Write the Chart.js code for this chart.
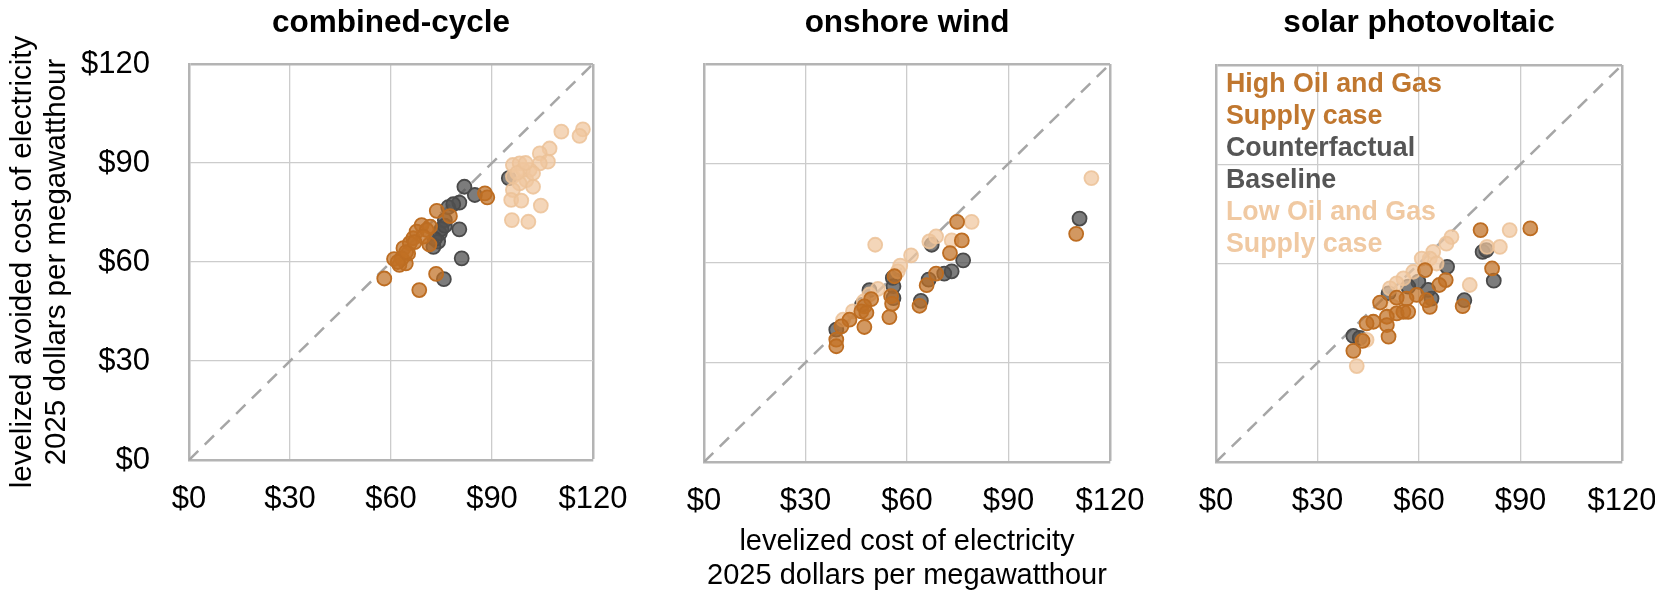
<!DOCTYPE html>
<html>
<head>
<meta charset="utf-8">
<script src="https://cdn.jsdelivr.net/npm/chart.js@4/dist/chart.umd.min.js"></script>
<style>
  body { margin: 0; background: #fff; }
  #wrap { position: relative; width: 1655px; height: 593px; }
  #wrap canvas { position: absolute; left: 0; top: 0; }
</style>
</head>
<body>
<div id="wrap">
  <canvas id="cc" width="1655" height="593"></canvas>
  <canvas id="ow" width="1655" height="593"></canvas>
  <canvas id="pv" width="1655" height="593"></canvas>
</div>
<script>
// values, [LCOE, LACE] in 2025 $/MWh
const ccHigh = [[58,55],[68.4,51.5],[73.4,56.4],[60.9,60.9],[62.5,59.1],[64.4,59.6],[63.7,64.2],[65.6,65.7],
  [66.6,67.2],[69.1,71.2],[71.6,70.7],[71.4,65.3],[73.6,75.5],[77.5,73.9],[87.9,80.8],[88.6,79.6],
  [65.1,62.6],[67.6,69.2],[70.6,69.7],[63.2,61.1],[69.6,67.7],[62,60],[64.5,63],[67,66]];
const ccBase = [[81.8,82.8],[84.9,80.3],[80.3,78],[77,76.6],[80.3,69.9],[81,61.1],[75.7,54.8],[74.5,68.7],
  [74,66.2],[76,72.7],[72.6,64.6],[95,85.4],[78.5,77.5],[75,70],[73,67],[76,71]];
const ccLow = [[110.6,99.5],[117,100.2],[116,98.2],[107.1,94.4],[104.2,92.9],[106.6,90.4],[104.2,89.9],[96.2,89.4],
  [98.2,89.9],[101.2,87.9],[96.2,85.9],[100.2,84.8],[102.2,82.8],[98.2,83.8],[96.2,81.8],[95.7,78.8],
  [98.7,78.6],[104.5,77.1],[95.9,72.7],[100.8,72.2],[99.2,87.9],[102.2,86.9],[97.5,87],[100,90]];

const owHigh = [[110,68.8],[74.8,72.4],[76.2,66.8],[72.7,63],[68.6,56.8],[65.8,53.3],[63.7,47.1],[56.3,56],
  [55.3,50],[55.6,47.7],[54.8,43.7],[49.4,49.1],[47.4,46.9],[46.5,45.4],[47.4,40.7],[43,42.9],
  [40.6,40.9],[39.1,36.9],[39.1,34.9],[48,45]];
const owBase = [[111,73.4],[76.6,60.8],[73.2,57.5],[71,56.8],[66.4,55],[67.3,65.5],[64.1,48.6],[55.8,55.5],
  [56,53],[56,49.4],[48.9,51.8],[46.7,47.4],[39.1,39.9]];
const owLow = [[114.5,85.6],[79.1,72.4],[73.2,66.8],[68.6,68],[66.6,66.5],[61.2,62.3],[58,59.2],[57.3,57.5],
  [50.6,65.5],[51.4,52.2],[48.9,50.5],[44,45.4],[41.1,42.9],[47.2,48.4]];

const pvHigh = [[92.9,70.6],[78.2,70.1],[81.6,58.5],[72.9,47.1],[67.9,55],[66,53.5],[61.8,58],[63.2,46.9],
  [62.2,48.9],[59.3,50.5],[56.3,49.4],[53.4,49.7],[55.4,45.4],[53.4,44.9],[50.5,43.9],[48.5,48.2],
  [50.5,41.4],[46.5,42.4],[44.5,41.9],[51,37.9],[43.3,36.6],[40.6,33.6],[56.8,45.4]];
const pvBase = [[82.1,54.8],[78.8,63.5],[79.9,64],[73.4,48.9],[68.3,59],[63.7,49.4],[62.7,52],[59.8,54.5],
  [56.8,53],[51,51],[40.6,38.1],[42.5,37.5]];
const pvLow = [[86.8,70.1],[83.9,65],[80.1,65],[75,53.5],[69.6,68],[68.1,66],[64.2,63.5],[63.2,61.5],
  [60.8,61.5],[65.2,60],[58.3,57.5],[55.4,55.5],[53.4,54],[51.4,52.5],[44.5,36.9],[41.6,29],[52.4,46.9]];

const diagonal = [[0,0],[120,120]];
const axisMax = 120;
const axisStep = 30;
const panelTitles = ['combined-cycle', 'onshore wind', 'solar photovoltaic'];
const legendLines = ['High Oil and Gas', 'Supply case', 'Counterfactual', 'Baseline', 'Low Oil and Gas', 'Supply case'];
const yTitle = ['levelized avoided cost of electricity', '2025 dollars per megawatthour'];
const xTitle = ['levelized cost of electricity', '2025 dollars per megawatthour'];

const FONT = '"Liberation Sans", Arial, sans-serif';
const W = 1655, H = 593;

const orange = { fill: 'rgba(192,112,36,0.72)', line: '#bd6d22', text: '#c0772f' };
const grey = { fill: 'rgba(80,80,80,0.75)', line: '#4a4a4a', text: '#555555' };
const peach = { fill: 'rgba(240,198,158,0.72)', line: 'rgba(236,194,152,0.85)', text: '#f0c9a2' };
const legendColors = [orange.text, orange.text, grey.text, grey.text, peach.text, peach.text];

const toXY = arr => arr.map(p => ({ x: p[0], y: p[1] }));

// panel title + in-plot legend
const panelText = {
  id: 'panelText',
  afterDraw(chart, args, o) {
    const { ctx, chartArea: a } = chart;
    ctx.save();
    ctx.textAlign = 'center';
    ctx.textBaseline = 'middle';
    ctx.fillStyle = '#000';
    ctx.font = 'bold 31.5px ' + FONT;
    ctx.fillText(o.title, (a.left + a.right) / 2, 23);
    if (o.legend) {
      ctx.textAlign = 'left';
      ctx.font = 'bold 26.8px ' + FONT;
      legendLines.forEach((t, i) => {
        ctx.fillStyle = legendColors[i];
        ctx.fillText(t, a.left + 10, a.top + 20 + i * 32);
      });
    }
    ctx.restore();
  }
};

function scatterSet(label, arr, c, order) {
  return {
    type: 'scatter', label: label, data: toXY(arr), order: order,
    backgroundColor: c.fill, borderColor: c.line, borderWidth: 1.8,
    pointRadius: 7, pointHoverRadius: 7
  };
}

function makePanel(id, idx, high, base, low, box, showY, showX, showLegend) {
  const gridOpts = {
    drawTicks: false,
    color: c => (c.tick && c.tick.value === axisMax) ? '#b4b4b4' : '#cccccc',
    lineWidth: c => (c.tick && c.tick.value === axisMax) ? 2.5 : 1.3
  };
  const yWidth = showY ? box.left : 0;
  new Chart(document.getElementById(id), {
    data: {
      datasets: [
        {
          type: 'line', label: 'diagonal', data: toXY(diagonal), order: 5,
          borderColor: '#a6a6a6', borderWidth: 2.5, borderDash: [13, 9],
          pointRadius: 0, fill: false
        },
        scatterSet('Counterfactual Baseline', base, grey, 3),
        scatterSet('Low Oil and Gas Supply case', low, peach, 2),
        scatterSet('High Oil and Gas Supply case', high, orange, 1)
      ]
    },
    options: {
      responsive: false,
      animation: false,
      layout: { padding: { left: box.left - yWidth, right: W - box.right, top: box.top, bottom: 0 } },
      plugins: {
        legend: { display: false },
        tooltip: { enabled: false },
        panelText: { title: panelTitles[idx], legend: showLegend }
      },
      scales: {
        x: {
          type: 'linear', position: 'bottom', min: 0, max: axisMax,
          grid: gridOpts,
          border: { color: '#b4b4b4', width: 2.5 },
          ticks: { stepSize: axisStep, padding: 21, color: '#000', font: { family: FONT, size: 31 },
                   maxRotation: 0, callback: v => '$' + v },
          title: { display: showX, text: xTitle, color: '#000', font: { family: FONT, size: 29, lineHeight: 34 / 29 },
                   padding: { top: 0, bottom: 0 } },
          afterFit: s => { s.height = H - box.bottom; s.paddingLeft = 0; s.paddingRight = 0; }
        },
        y: {
          type: 'linear', position: 'left', min: 0, max: axisMax,
          grid: gridOpts,
          border: { color: '#b4b4b4', width: 2.5 },
          ticks: { display: showY, stepSize: axisStep, padding: 39, color: '#000', font: { family: FONT, size: 31 },
                   callback: v => '$' + v },
          title: { display: showY, text: yTitle, color: '#000', font: { family: FONT, size: 29.5, lineHeight: 34 / 29.5 },
                   padding: { top: 6, bottom: 0 } },
          afterFit: s => { s.width = yWidth; s.paddingTop = 0; s.paddingBottom = 0; }
        }
      }
    },
    plugins: [panelText]
  });
}

makePanel('cc', 0, ccHigh, ccBase, ccLow, { left: 189, right: 593, top: 64, bottom: 460 }, true, false, false);
makePanel('ow', 1, owHigh, owBase, owLow, { left: 704, right: 1110, top: 64, bottom: 462 }, false, true, false);
makePanel('pv', 2, pvHigh, pvBase, pvLow, { left: 1216, right: 1622, top: 65, bottom: 462 }, false, false, true);
</script>
</body>
</html>
